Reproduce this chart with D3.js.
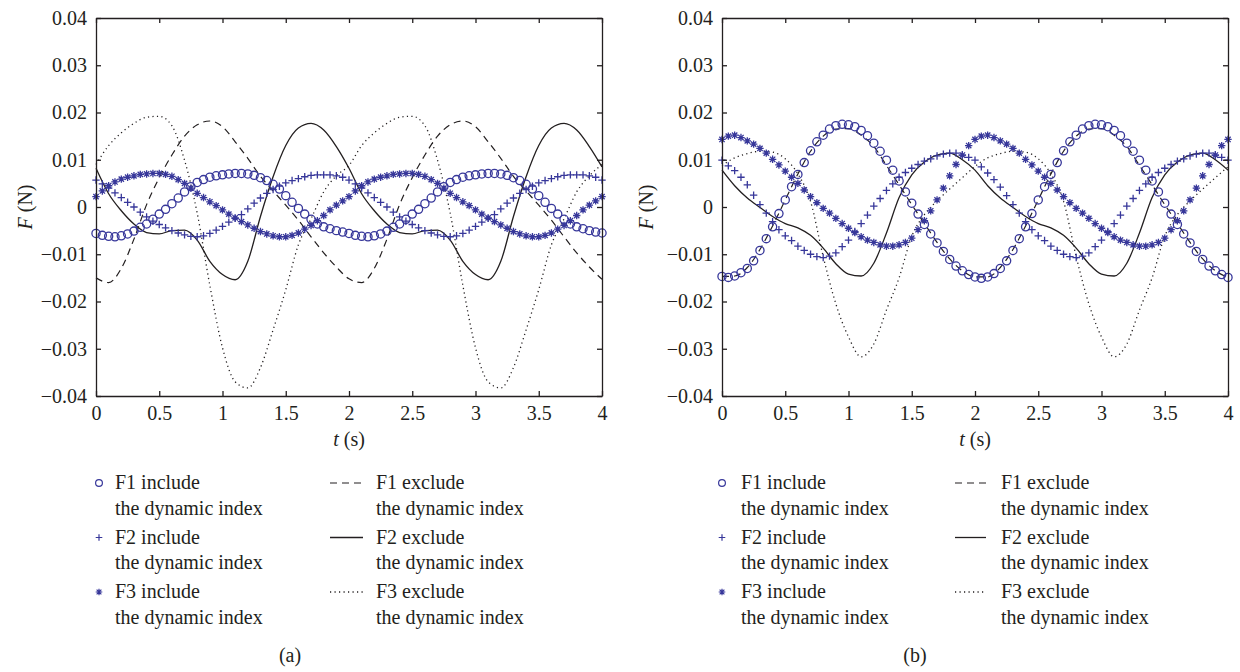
<!DOCTYPE html>
<html>
<head>
<meta charset="utf-8">
<script src="https://d3js.org/d3.v7.min.js"></script>
<style>
  body { margin: 0; background: #fff; }
  text { font-family: "Liberation Serif", "DejaVu Serif", "Times New Roman", serif; }
</style>
</head>
<body>
<svg id="chart" width="1240" height="672"></svg>
<script>
// sample spacing of the marker series and of the line series (s)
var markerStep = 0.05, lineStep = 0.1;

var xTicks = [0, 0.5, 1, 1.5, 2, 2.5, 3, 3.5, 4];
var yTicks = [-0.04, -0.03, -0.02, -0.01, 0, 0.01, 0.02, 0.03, 0.04];

var legendInclude = ["F1 include", "F2 include", "F3 include"];
var legendExclude = ["F1 exclude", "F2 exclude", "F3 exclude"];
var legendSub = "the dynamic index";

// ---- panel (a) : markers every 0.05 s, one row = 0.5 s
var aF1Include = [
  -0.0056,-0.0060,-0.0062,-0.0063,-0.0061,-0.0057,-0.0051,-0.0043,-0.0036,-0.0026,
  -0.0015,-0.0005,0.0007,0.0019,0.0032,0.0043,0.0052,0.0058,0.0063,0.0066,
  0.0068,0.0070,0.0071,0.0071,0.0070,0.0067,0.0062,0.0056,0.0048,0.0038,
  0.0024,0.0010,-0.0003,-0.0015,-0.0026,-0.0036,-0.0042,-0.0046,-0.0050,-0.0053,
  -0.0056,-0.0060,-0.0062,-0.0063,-0.0061,-0.0057,-0.0051,-0.0043,-0.0036,-0.0026,
  -0.0015,-0.0005,0.0007,0.0019,0.0032,0.0043,0.0052,0.0058,0.0063,0.0066,
  0.0068,0.0070,0.0071,0.0071,0.0070,0.0067,0.0062,0.0056,0.0048,0.0038,
  0.0024,0.0010,-0.0003,-0.0015,-0.0026,-0.0036,-0.0042,-0.0046,-0.0050,-0.0053,
  -0.0055];
var aF2Include = [
  0.0057,0.0049,0.0040,0.0030,0.0020,0.0010,0.0000,-0.0011,-0.0021,-0.0030,
  -0.0037,-0.0044,-0.0050,-0.0055,-0.0059,-0.0062,-0.0063,-0.0061,-0.0056,-0.0049,
  -0.0041,-0.0032,-0.0024,-0.0016,-0.0004,0.0008,0.0019,0.0029,0.0037,0.0044,
  0.0051,0.0056,0.0060,0.0064,0.0067,0.0068,0.0068,0.0068,0.0066,0.0063,
  0.0057,0.0049,0.0040,0.0030,0.0020,0.0010,0.0000,-0.0011,-0.0021,-0.0030,
  -0.0037,-0.0044,-0.0050,-0.0055,-0.0059,-0.0062,-0.0063,-0.0061,-0.0056,-0.0049,
  -0.0041,-0.0032,-0.0024,-0.0016,-0.0004,0.0008,0.0019,0.0029,0.0037,0.0044,
  0.0051,0.0056,0.0060,0.0064,0.0067,0.0068,0.0068,0.0068,0.0066,0.0063,
  0.0057];
var aF3Include = [
  0.0022,0.0034,0.0045,0.0053,0.0059,0.0063,0.0066,0.0069,0.0070,0.0071,
  0.0071,0.0069,0.0065,0.0058,0.0050,0.0040,0.0029,0.0020,0.0011,0.0003,
  -0.0006,-0.0015,-0.0023,-0.0031,-0.0038,-0.0045,-0.0052,-0.0057,-0.0061,-0.0063,
  -0.0063,-0.0060,-0.0055,-0.0047,-0.0039,-0.0029,-0.0018,-0.0006,0.0004,0.0013,
  0.0022,0.0034,0.0045,0.0053,0.0059,0.0063,0.0066,0.0069,0.0070,0.0071,
  0.0071,0.0069,0.0065,0.0058,0.0050,0.0040,0.0029,0.0020,0.0011,0.0003,
  -0.0006,-0.0015,-0.0023,-0.0031,-0.0038,-0.0045,-0.0052,-0.0057,-0.0061,-0.0063,
  -0.0063,-0.0060,-0.0055,-0.0047,-0.0039,-0.0029,-0.0018,-0.0006,0.0004,0.0013,
  0.0022];
// lines every 0.1 s, one row = 1 s
var aF1Exclude = [
  -0.0150,-0.0160,-0.0130,-0.0068,0.0005,0.0062,0.0110,0.0150,0.0174,0.0182,
  0.0170,0.0138,0.0103,0.0065,0.0034,0.0004,-0.0028,-0.0063,-0.0097,-0.0127,
  -0.0152,-0.0160,-0.0130,-0.0068,0.0005,0.0062,0.0110,0.0150,0.0174,0.0182,
  0.0170,0.0138,0.0103,0.0065,0.0034,0.0004,-0.0028,-0.0063,-0.0097,-0.0127,
  -0.0153];
var aF2Exclude = [
  0.0082,0.0028,-0.0008,-0.0036,-0.0054,-0.0057,-0.0050,-0.0049,-0.0070,-0.0115,
  -0.0143,-0.0154,-0.0115,-0.0020,0.0064,0.0130,0.0167,0.0177,0.0163,0.0128,
  0.0082,0.0028,-0.0008,-0.0036,-0.0054,-0.0057,-0.0050,-0.0049,-0.0070,-0.0115,
  -0.0143,-0.0154,-0.0115,-0.0020,0.0064,0.0130,0.0167,0.0177,0.0163,0.0128,
  0.0085];
var aF3Exclude = [
  0.0090,0.0130,0.0157,0.0177,0.0190,0.0192,0.0172,0.0099,-0.0013,-0.0166,
  -0.0298,-0.0370,-0.0383,-0.0340,-0.0260,-0.0175,-0.0080,-0.0025,0.0032,0.0066,
  0.0088,0.0130,0.0157,0.0177,0.0190,0.0192,0.0172,0.0099,-0.0013,-0.0166,
  -0.0298,-0.0370,-0.0383,-0.0340,-0.0260,-0.0175,-0.0080,-0.0025,0.0032,0.0066,
  0.0090];

// ---- panel (b)
var bF1Include = [
  -0.0147,-0.0149,-0.0146,-0.0139,-0.0130,-0.0114,-0.0092,-0.0067,-0.0042,-0.0014,
  0.0015,0.0043,0.0069,0.0094,0.0119,0.0138,0.0152,0.0165,0.0172,0.0175,
  0.0174,0.0170,0.0162,0.0151,0.0135,0.0118,0.0099,0.0078,0.0055,0.0032,
  0.0008,-0.0015,-0.0037,-0.0057,-0.0076,-0.0094,-0.0111,-0.0125,-0.0135,-0.0143,
  -0.0148,-0.0151,-0.0148,-0.0141,-0.0130,-0.0114,-0.0092,-0.0067,-0.0042,-0.0014,
  0.0015,0.0043,0.0069,0.0094,0.0119,0.0138,0.0152,0.0165,0.0172,0.0175,
  0.0174,0.0170,0.0162,0.0151,0.0135,0.0118,0.0099,0.0078,0.0055,0.0032,
  0.0008,-0.0015,-0.0037,-0.0057,-0.0076,-0.0094,-0.0111,-0.0125,-0.0135,-0.0143,
  -0.0149];
var bF2Include = [
  0.0099,0.0087,0.0077,0.0063,0.0047,0.0025,0.0005,-0.0013,-0.0031,-0.0048,
  -0.0061,-0.0071,-0.0083,-0.0092,-0.0100,-0.0105,-0.0107,-0.0104,-0.0097,-0.0084,
  -0.0070,-0.0052,-0.0035,-0.0017,0.0002,0.0018,0.0035,0.0049,0.0063,0.0073,
  0.0082,0.0090,0.0097,0.0102,0.0108,0.0112,0.0114,0.0114,0.0110,0.0105,
  0.0099,0.0085,0.0072,0.0058,0.0042,0.0024,0.0005,-0.0013,-0.0031,-0.0048,
  -0.0061,-0.0071,-0.0083,-0.0092,-0.0100,-0.0105,-0.0107,-0.0104,-0.0097,-0.0084,
  -0.0070,-0.0052,-0.0035,-0.0017,0.0002,0.0018,0.0035,0.0049,0.0063,0.0073,
  0.0082,0.0090,0.0097,0.0102,0.0108,0.0112,0.0114,0.0114,0.0110,0.0105,
  0.0099];
var bF3Include = [
  0.0143,0.0150,0.0152,0.0147,0.0140,0.0133,0.0124,0.0114,0.0101,0.0089,
  0.0076,0.0063,0.0050,0.0036,0.0022,0.0009,-0.0003,-0.0013,-0.0024,-0.0035,
  -0.0045,-0.0054,-0.0063,-0.0070,-0.0075,-0.0080,-0.0083,-0.0083,-0.0080,-0.0075,
  -0.0066,-0.0048,-0.0029,-0.0008,0.0015,0.0040,0.0066,0.0090,0.0110,0.0130,
  0.0143,0.0150,0.0152,0.0147,0.0140,0.0133,0.0124,0.0114,0.0101,0.0089,
  0.0076,0.0063,0.0050,0.0036,0.0022,0.0009,-0.0003,-0.0013,-0.0024,-0.0035,
  -0.0045,-0.0054,-0.0063,-0.0070,-0.0075,-0.0080,-0.0083,-0.0083,-0.0080,-0.0075,
  -0.0066,-0.0048,-0.0029,-0.0008,0.0015,0.0040,0.0066,0.0090,0.0110,0.0130,
  0.0143];
var bF1Exclude = [
  -0.0147,-0.0146,-0.0128,-0.0090,-0.0040,0.0015,0.0070,0.0118,0.0150,0.0165,
  0.0166,0.0152,0.0128,0.0088,0.0047,0.0005,-0.0035,-0.0075,-0.0110,-0.0135,
  -0.0148,-0.0148,-0.0128,-0.0090,-0.0040,0.0015,0.0070,0.0118,0.0150,0.0165,
  0.0166,0.0152,0.0128,0.0088,0.0047,0.0005,-0.0035,-0.0075,-0.0110,-0.0135,
  -0.0149];
var bF2Exclude = [
  0.0078,0.0045,0.0019,-0.0001,-0.0020,-0.0035,-0.0044,-0.0060,-0.0087,-0.0120,
  -0.0142,-0.0146,-0.0119,-0.0055,0.0020,0.0068,0.0095,0.0110,0.0114,0.0100,
  0.0078,0.0045,0.0019,-0.0001,-0.0020,-0.0035,-0.0044,-0.0060,-0.0087,-0.0120,
  -0.0142,-0.0146,-0.0119,-0.0055,0.0020,0.0068,0.0095,0.0110,0.0114,0.0100,
  0.0078];
var bF3Exclude = [
  0.0088,0.0104,0.0113,0.0118,0.0116,0.0102,0.0070,0.0012,-0.0105,-0.0205,
  -0.0275,-0.0317,-0.0290,-0.0218,-0.0150,-0.0062,-0.0016,0.0013,0.0038,0.0062,
  0.0086,0.0104,0.0113,0.0118,0.0116,0.0102,0.0070,0.0012,-0.0105,-0.0205,
  -0.0275,-0.0317,-0.0290,-0.0218,-0.0150,-0.0062,-0.0016,0.0013,0.0038,0.0062,
  0.0085];

var svg = d3.select("#chart");
var blue = "#37379a", ink = "#231f20";
var fontSize = 20;

// marker shapes, s = half size
function markerPath(kind, s) {
  if (kind === "plus") return "M" + (-s) + ",0H" + s + "M0," + (-s) + "V" + s;
  var k = s * 0.72;
  return "M" + (-s) + ",0H" + s + "M0," + (-s) + "V" + s +
         "M" + (-k) + "," + (-k) + "L" + k + "," + k +
         "M" + (-k) + "," + k + "L" + k + "," + (-k);
}

var lineStyles = [
  { dash: "7,5", width: 1.2 },
  { dash: null, width: 1.3 },
  { dash: "1.2,3.3", width: 1.3 }
];
var markerKinds = ["circle", "plus", "star"];

function drawMarkers(g, vals, kind, x, y) {
  if (kind === "circle") {
    g.selectAll(null).data(vals).enter().append("circle")
      .attr("cx", function(d, i) { return x(i * markerStep); })
      .attr("cy", function(d) { return y(d); })
      .attr("r", 4.1)
      .attr("fill", "none").attr("stroke", blue).attr("stroke-width", 1.3);
  } else {
    g.selectAll(null).data(vals).enter().append("path")
      .attr("transform", function(d, i) { return "translate(" + x(i * markerStep) + "," + y(d) + ")"; })
      .attr("d", markerPath(kind, 3.7))
      .attr("fill", "none").attr("stroke", blue).attr("stroke-width", 1.3);
  }
}

function drawPanel(p) {
  var x = d3.scaleLinear().domain([0, 4]).range([p.left, p.right]);
  var y = d3.scaleLinear().domain([-0.04, 0.04]).range([p.bottom, p.top]);
  var g = svg.append("g");

  var line = d3.line()
    .x(function(d, i) { return x(i * lineStep); })
    .y(function(d) { return y(d); })
    .curve(d3.curveMonotoneX);

  p.exclude.forEach(function(vals, k) {
    g.append("path").attr("d", line(vals))
      .attr("fill", "none").attr("stroke", ink)
      .attr("stroke-width", lineStyles[k].width)
      .attr("stroke-dasharray", lineStyles[k].dash);
  });
  p.include.forEach(function(vals, k) {
    drawMarkers(g.append("g"), vals, markerKinds[k], x, y);
  });

  // axes: box with inward ticks on all sides
  var fmtY = function(d) { return Math.abs(d) < 1e-9 ? "0" : d3.format(".2f")(d); };
  var axes = [
    g.append("g").attr("transform", "translate(0," + p.bottom + ")")
      .call(d3.axisBottom(x).tickValues(xTicks).tickSize(-5).tickSizeOuter(0).tickPadding(10)
        .tickFormat(function(d) { return String(d); })),
    g.append("g").attr("transform", "translate(0," + p.top + ")")
      .call(d3.axisTop(x).tickValues(xTicks).tickSize(-5).tickSizeOuter(0).tickFormat("")),
    g.append("g").attr("transform", "translate(" + p.left + ",0)")
      .call(d3.axisLeft(y).tickValues(yTicks).tickSize(-5).tickSizeOuter(0).tickPadding(9).tickFormat(fmtY)),
    g.append("g").attr("transform", "translate(" + p.right + ",0)")
      .call(d3.axisRight(y).tickValues(yTicks).tickSize(-5).tickSizeOuter(0).tickFormat(""))
  ];
  axes.forEach(function(a) {
    a.attr("font-family", null).attr("font-size", fontSize).attr("color", ink);
    a.selectAll(".domain, .tick line").attr("stroke-width", 1.3);
  });

  // axis titles
  var xt = g.append("text").attr("x", (p.left + p.right) / 2).attr("y", 446)
    .attr("text-anchor", "middle").attr("font-size", fontSize).attr("fill", ink);
  xt.append("tspan").attr("font-style", "italic").text("t");
  xt.append("tspan").text(" (s)");
  var yt = g.append("text")
    .attr("transform", "translate(" + p.yTitleX + "," + (p.top + p.bottom) / 2 + ") rotate(-90)")
    .attr("text-anchor", "middle").attr("font-size", fontSize).attr("fill", ink);
  yt.append("tspan").attr("font-style", "italic").text("F");
  yt.append("tspan").text(" (N)");

  // legend
  var L = p.legend;
  legendInclude.forEach(function(label, k) {
    var base = 489 + k * 54.5;
    var cy = base - 6;
    if (markerKinds[k] === "circle") {
      g.append("circle").attr("cx", L.markX).attr("cy", cy).attr("r", 3.4)
        .attr("fill", "none").attr("stroke", blue).attr("stroke-width", 1.2);
    } else {
      g.append("path").attr("transform", "translate(" + L.markX + "," + cy + ")")
        .attr("d", markerPath(markerKinds[k], 3.3))
        .attr("fill", "none").attr("stroke", blue).attr("stroke-width", 1.2);
    }
    g.append("text").attr("x", L.textX).attr("y", base).attr("font-size", fontSize).attr("fill", ink).text(label);
    g.append("text").attr("x", L.textX).attr("y", base + 25.5).attr("font-size", fontSize).attr("fill", ink).text(legendSub);

    g.append("line").attr("x1", L.lineX0).attr("x2", L.lineX1).attr("y1", cy).attr("y2", cy)
      .attr("stroke", ink).attr("stroke-width", lineStyles[k].width)
      .attr("stroke-dasharray", lineStyles[k].dash);
    g.append("text").attr("x", L.text2X).attr("y", base).attr("font-size", fontSize).attr("fill", ink).text(legendExclude[k]);
    g.append("text").attr("x", L.text2X).attr("y", base + 25.5).attr("font-size", fontSize).attr("fill", ink).text(legendSub);
  });

  g.append("text").attr("x", p.tagX).attr("y", 662).attr("text-anchor", "middle")
    .attr("font-size", fontSize).attr("fill", ink).text(p.tag);
}

drawPanel({
  left: 96, right: 602, top: 18, bottom: 396, yTitleX: 31.5,
  include: [aF1Include, aF2Include, aF3Include],
  exclude: [aF1Exclude, aF2Exclude, aF3Exclude],
  legend: { markX: 99, textX: 115, lineX0: 330, lineX1: 363, text2X: 376 },
  tag: "(a)", tagX: 290
});
drawPanel({
  left: 722, right: 1228, top: 18, bottom: 396, yTitleX: 653,
  include: [bF1Include, bF2Include, bF3Include],
  exclude: [bF1Exclude, bF2Exclude, bF3Exclude],
  legend: { markX: 722, textX: 741, lineX0: 955, lineX1: 986, text2X: 1001 },
  tag: "(b)", tagX: 915
});
</script>
</body>
</html>
